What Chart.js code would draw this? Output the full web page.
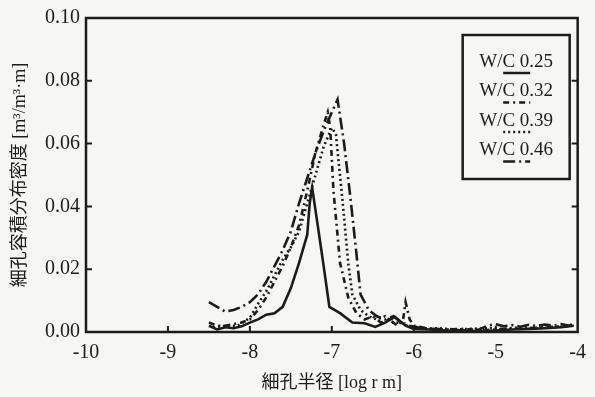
<!DOCTYPE html>
<html>
<head>
<meta charset="utf-8">
<script src="https://cdn.jsdelivr.net/npm/chart.js@4"></script>
<style>
  html, body { margin: 0; padding: 0; background: #f6f6f4; }
  #wrap { width: 595px; height: 397px; }
</style>
</head>
<body>
<div id="wrap"><canvas id="chart-canvas" width="595" height="397"></canvas></div>
<script>
// series labels
const seriesNames = ['W/C 0.25', 'W/C 0.32', 'W/C 0.39', 'W/C 0.46'];

// W/C 0.25 (solid)
const x25 = [-8.5,-8.4,-8.3,-8.2,-8.1,-8.0,-7.9,-7.8,-7.7,-7.6,-7.5,-7.4,-7.3,-7.27,-7.24,-7.15,-7.1,-7.03,-6.9,-6.75,-6.6,-6.47,-6.35,-6.23,-6.1,-6.0,-5.8,-5.6,-5.4,-5.3,-5.2,-5.0,-4.8,-4.6,-4.4,-4.2,-4.05];
const y25 = [0.002,0.0008,0.0015,0.0012,0.0018,0.003,0.004,0.0055,0.006,0.008,0.014,0.022,0.031,0.041,0.046,0.030,0.021,0.008,0.006,0.003,0.0028,0.0016,0.003,0.0048,0.002,0.001,0.0008,0.0005,0.0004,0.0003,0.0002,0.0005,0.0008,0.001,0.0012,0.0015,0.002];

// W/C 0.32 (dot-dash)
const x32 = [-8.5,-8.4,-8.3,-8.2,-8.1,-8.0,-7.9,-7.8,-7.7,-7.6,-7.5,-7.4,-7.3,-7.2,-7.1,-7.05,-7.02,-6.98,-6.9,-6.8,-6.7,-6.6,-6.5,-6.4,-6.3,-6.2,-6.13,-6.1,-6.05,-6.0,-5.9,-5.8,-5.6,-5.4,-5.2,-5.0,-4.8,-4.6,-4.4,-4.2,-4.05];
const y32 = [0.003,0.002,0.002,0.0025,0.003,0.004,0.007,0.011,0.016,0.021,0.027,0.034,0.045,0.057,0.066,0.070,0.065,0.045,0.022,0.011,0.006,0.004,0.005,0.003,0.004,0.002,0.004,0.0095,0.004,0.002,0.0015,0.001,0.0008,0.001,0.0006,0.0008,0.001,0.0012,0.0015,0.0018,0.002];

// W/C 0.39 (dotted)
const x39 = [-8.45,-8.3,-8.15,-8.0,-7.9,-7.8,-7.7,-7.6,-7.5,-7.4,-7.3,-7.2,-7.1,-7.0,-6.95,-6.92,-6.87,-6.8,-6.75,-6.65,-6.55,-6.45,-6.35,-6.25,-6.15,-6.05,-5.9,-5.7,-5.5,-5.3,-5.1,-4.9,-4.7,-4.5,-4.3,-4.1];
const y39 = [0.0015,0.002,0.002,0.0045,0.009,0.013,0.018,0.023,0.027,0.032,0.041,0.050,0.059,0.065,0.063,0.055,0.042,0.022,0.012,0.007,0.005,0.004,0.005,0.003,0.003,0.0015,0.001,0.0012,0.0008,0.001,0.0012,0.001,0.0015,0.0012,0.0015,0.0018];

// W/C 0.46 (long dash-dot)
const x46 = [-8.5,-8.4,-8.3,-8.2,-8.1,-8.0,-7.9,-7.8,-7.7,-7.6,-7.5,-7.4,-7.3,-7.2,-7.1,-7.0,-6.93,-6.85,-6.77,-6.7,-6.65,-6.55,-6.45,-6.35,-6.25,-6.15,-6.05,-5.95,-5.8,-5.6,-5.4,-5.2,-5.1,-5.0,-4.9,-4.8,-4.7,-4.6,-4.5,-4.4,-4.3,-4.2,-4.1,-4.05];
const y46 = [0.0095,0.008,0.0065,0.007,0.008,0.0095,0.012,0.016,0.021,0.026,0.032,0.041,0.049,0.057,0.064,0.070,0.074,0.060,0.042,0.025,0.012,0.007,0.005,0.004,0.005,0.003,0.002,0.0015,0.001,0.0008,0.0005,0.0008,0.002,0.0025,0.0018,0.0022,0.0017,0.0023,0.0019,0.0024,0.002,0.0025,0.002,0.003];

// axis ticks
const xTicks = [-10, -9, -8, -7, -6, -5, -4];
const yTicks = [0.00, 0.02, 0.04, 0.06, 0.08, 0.10];

const ink = '#1c1c1c';
const serif = "'Liberation Serif', 'Noto Sans CJK JP', serif";

// pair x and y arrays into points
function toPoints(xs, ys) {
    return xs.map((x, i) => ({ x: x, y: ys[i] }));
}

const lineStyles = [
    { dash: [] },
    { dash: [6, 4, 2, 4] },
    { dash: [2, 3] },
    { dash: [12, 4, 2, 4] }
];
const allX = [x25, x32, x39, x46];
const allY = [y25, y32, y39, y46];

// frame box plus inward tick marks
const framePlugin = {
    id: 'frame',
    afterDraw(chart) {
        const { ctx, chartArea: a, scales } = chart;
        ctx.save();
        ctx.strokeStyle = ink;
        ctx.lineWidth = 2.5;
        ctx.strokeRect(a.left, a.top, a.right - a.left, a.bottom - a.top);
        ctx.lineWidth = 2;
        const len = 6;
        ctx.beginPath();
        xTicks.slice(1, -1).forEach(v => {
            const px = scales.x.getPixelForValue(v);
            ctx.moveTo(px, a.bottom);
            ctx.lineTo(px, a.bottom - len);
        });
        yTicks.slice(1, -1).forEach(v => {
            const py = scales.y.getPixelForValue(v);
            ctx.moveTo(a.left, py);
            ctx.lineTo(a.left + len, py);
            ctx.moveTo(a.right, py);
            ctx.lineTo(a.right - len, py);
        });
        ctx.stroke();
        ctx.restore();
    }
};

// boxed legend with the line sample under each label
const legendPlugin = {
    id: 'boxLegend',
    afterDraw(chart) {
        const { ctx, chartArea: a } = chart;
        const right = a.right - 8;
        const left = right - 107;
        const top = a.top + 17;
        const bottom = top + 144;
        ctx.save();
        ctx.fillStyle = '#f6f6f4';
        ctx.fillRect(left, top, right - left, bottom - top);
        ctx.strokeStyle = ink;
        ctx.lineWidth = 2.5;
        ctx.strokeRect(left, top, right - left, bottom - top);
        ctx.font = '19px ' + serif;
        ctx.fillStyle = ink;
        ctx.textAlign = 'center';
        ctx.textBaseline = 'middle';
        const cx = (left + right) / 2;
        chart.data.datasets.forEach((ds, i) => {
            const ty = top + 27 + i * 29.5;
            ctx.fillText(ds.label, cx, ty);
            ctx.beginPath();
            ctx.setLineDash(ds.borderDash || []);
            ctx.lineWidth = 2.5;
            ctx.moveTo(cx - 13, ty + 11);
            ctx.lineTo(cx + 14, ty + 11);
            ctx.stroke();
        });
        ctx.restore();
    }
};

const canvas = document.getElementById('chart-canvas');
new Chart(canvas, {
    type: 'line',
    data: {
        datasets: seriesNames.map((name, i) => ({
            label: name,
            data: toPoints(allX[i], allY[i]),
            borderColor: ink,
            borderWidth: 2.6,
            borderDash: lineStyles[i].dash,
            pointRadius: 0,
            tension: 0,
            fill: false
        }))
    },
    options: {
        responsive: false,
        animation: false,
        layout: { padding: { left: 0, right: 9, top: 16, bottom: 0 } },
        plugins: {
            legend: { display: false },
            tooltip: { enabled: false }
        },
        scales: {
            x: {
                type: 'linear',
                min: -10,
                max: -4,
                afterBuildTicks: s => { s.ticks = xTicks.map(v => ({ value: v })); },
                afterFit: s => { s.height = 65; },
                grid: { display: false, drawTicks: false },
                border: { display: false },
                ticks: {
                    color: ink,
                    padding: 9,
                    font: { family: serif, size: 20 },
                    callback: v => String(v)
                },
                title: {
                    display: true,
                    text: '細孔半径 [log r m]',
                    color: ink,
                    font: { family: serif, size: 18 },
                    padding: { top: 0, bottom: 3 }
                }
            },
            y: {
                min: 0,
                max: 0.1,
                afterBuildTicks: s => { s.ticks = yTicks.map(v => ({ value: v })); },
                afterFit: s => { s.width = 86; },
                grid: { display: false, drawTicks: false },
                border: { display: false },
                ticks: {
                    color: ink,
                    padding: 6,
                    font: { family: serif, size: 20 },
                    callback: v => Number(v).toFixed(2)
                },
                title: {
                    display: true,
                    text: '細孔容積分布密度 [m³/m³·m]',
                    color: ink,
                    font: { family: serif, size: 18 },
                    padding: { top: 9, bottom: 0 }
                }
            }
        }
    },
    plugins: [framePlugin, legendPlugin]
});
</script>
</body>
</html>
